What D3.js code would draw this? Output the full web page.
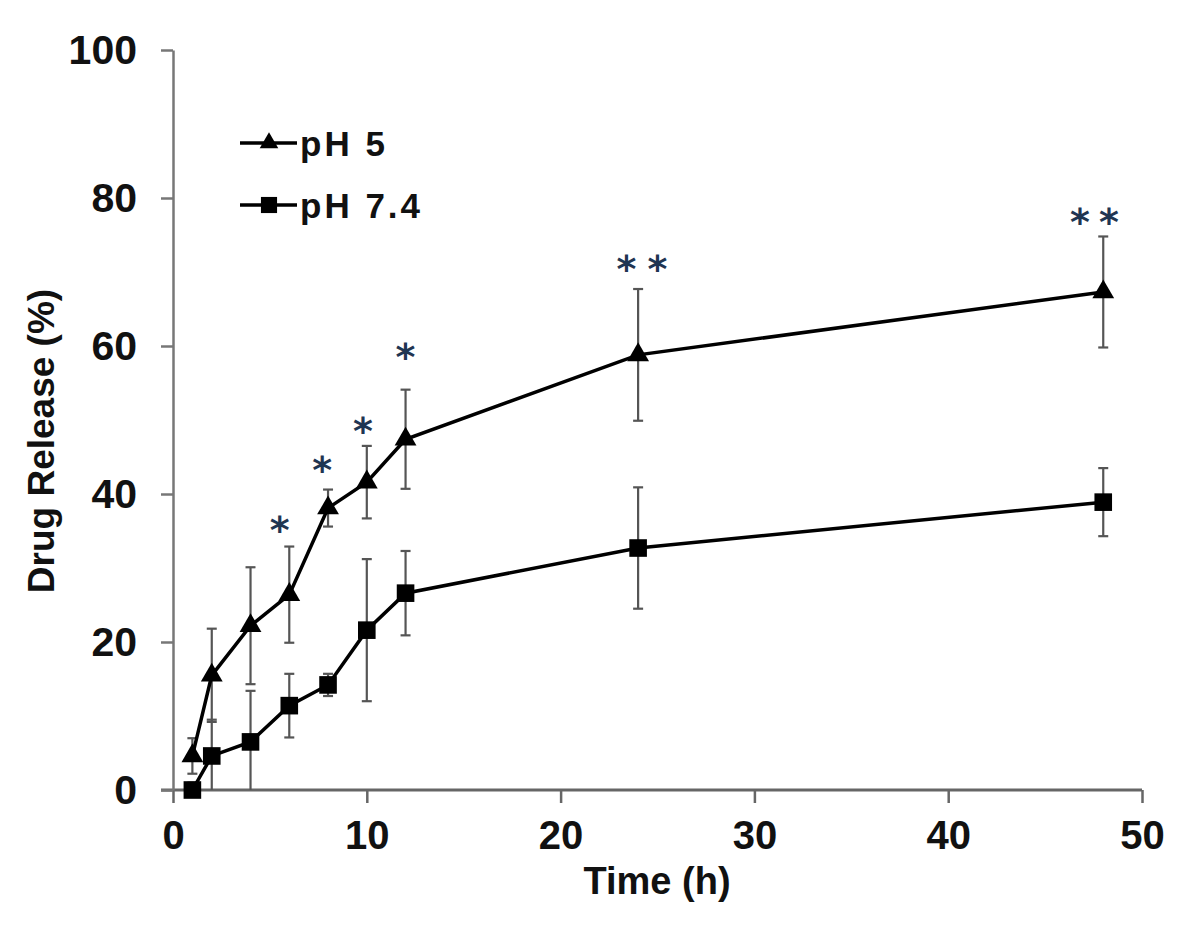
<!DOCTYPE html>
<html>
<head>
<meta charset="utf-8">
<script src="https://cdn.jsdelivr.net/npm/d3@7"></script>
<style>
  body { margin: 0; background: #fff; }
  text { font-family: 'Liberation Sans', Arial, sans-serif; }
</style>
</head>
<body>
<div id="chart"></div>
<script>
// data (time in h, release in %)
const times = [1, 2, 4, 6, 8, 10, 12, 24, 48]
const ph5 = [4.6, 15.5, 22.2, 26.4, 38.1, 41.6, 47.4, 58.8, 67.3]
const ph5Err = [2.4, 6.3, 7.9, 6.5, 2.5, 4.9, 6.7, 8.9, 7.5]
const ph74 = [0, 4.6, 6.5, 11.4, 14.2, 21.6, 26.6, 32.7, 38.9]
const ph74Err = [1, 4.9, 6.9, 4.3, 1.5, 9.6, 5.7, 8.2, 4.6]
const seriesNames = ['pH 5', 'pH 7.4']

// significance marks (asterisks) above the pH 5 points
const starTimes = [5.5, 7.7, 9.8, 12.0, 23.4, 25.0, 46.8, 48.3]
const starValues = [36.5, 44.7, 50, 59.9, 71.9, 71.9, 78.2, 78.2]

const xTicks = [0, 10, 20, 30, 40, 50]
const yTicks = [0, 20, 40, 60, 80, 100]

const width = 1181
const height = 927

const svg = d3.select('#chart')
  .append('svg')
  .attr('width', width)
  .attr('height', height)

const x = d3.scaleLinear().domain([0, 50]).range([173, 1142])
const y = d3.scaleLinear().domain([0, 100]).range([790, 50])

// x axis
const xAxis = svg.append('g')
  .attr('transform', 'translate(0,' + y(0) + ')')
  .call(d3.axisBottom(x).tickValues(xTicks).tickSize(13).tickSizeOuter(0).tickPadding(18))
xAxis.select('.domain').attr('stroke', '#666').attr('stroke-width', 3)
  .attr('d', 'M' + (x(0) - 12) + ',0H' + x(50))
xAxis.selectAll('.tick line').attr('stroke', '#666').attr('stroke-width', 2.5)
xAxis.selectAll('.tick text')
  .attr('font-size', 40).attr('font-weight', 'bold').attr('fill', '#111')
  .attr('font-family', "'Liberation Sans', Arial, sans-serif")

// y axis
const yAxis = svg.append('g')
  .attr('transform', 'translate(' + x(0) + ',0)')
  .call(d3.axisLeft(y).tickValues(yTicks).tickSize(12).tickSizeOuter(0).tickPadding(24))
yAxis.select('.domain').attr('stroke', '#777').attr('stroke-width', 2.5)
yAxis.selectAll('.tick line').attr('stroke', '#777').attr('stroke-width', 2.5)
yAxis.selectAll('.tick text')
  .attr('font-size', 41).attr('font-weight', 'bold').attr('fill', '#111')
  .attr('font-family', "'Liberation Sans', Arial, sans-serif")

// axis titles
svg.append('text')
  .attr('x', 657)
  .attr('y', 894)
  .attr('text-anchor', 'middle')
  .attr('font-size', 38).attr('font-weight', 'bold').attr('fill', '#111')
  .text('Time (h)')

svg.append('text')
  .attr('transform', 'translate(54,441) rotate(-90)')
  .attr('text-anchor', 'middle')
  .attr('font-size', 37).attr('font-weight', 'bold').attr('fill', '#111')
  .text('Drug Release (%)')

const series = [
  { name: seriesNames[0], values: ph5, err: ph5Err, symbol: d3.symbolTriangle, size: 206 },
  { name: seriesNames[1], values: ph74, err: ph74Err, symbol: d3.symbolSquare, size: 310 }
]

const line = d3.line()
  .x(function (d) { return x(d.t) })
  .y(function (d) { return y(d.v) })

series.forEach(function (s) {
  const pts = times.map(function (t, i) { return { t: t, v: s.values[i], e: s.err[i] } })
  const g = svg.append('g')

  // error bars
  const eb = g.selectAll('g.err').data(pts).enter().append('g')
    .attr('stroke', '#555').attr('stroke-width', 2.2)
  eb.append('line')
    .attr('x1', function (d) { return x(d.t) })
    .attr('x2', function (d) { return x(d.t) })
    .attr('y1', function (d) { return y(Math.max(0, d.v - d.e)) })
    .attr('y2', function (d) { return y(d.v + d.e) })
  eb.append('line')
    .attr('x1', function (d) { return x(d.t) - 5 })
    .attr('x2', function (d) { return x(d.t) + 5 })
    .attr('y1', function (d) { return y(d.v + d.e) })
    .attr('y2', function (d) { return y(d.v + d.e) })
  eb.filter(function (d) { return d.v - d.e > 0 }).append('line')
    .attr('x1', function (d) { return x(d.t) - 5 })
    .attr('x2', function (d) { return x(d.t) + 5 })
    .attr('y1', function (d) { return y(d.v - d.e) })
    .attr('y2', function (d) { return y(d.v - d.e) })

  g.append('path')
    .datum(pts)
    .attr('fill', 'none')
    .attr('stroke', '#000')
    .attr('stroke-width', 3.5)
    .attr('d', line)

  g.selectAll('path.mark').data(pts).enter().append('path')
    .attr('class', 'mark')
    .attr('transform', function (d) { return 'translate(' + x(d.t) + ',' + y(d.v) + ')' })
    .attr('d', d3.symbol().type(s.symbol).size(s.size))
    .attr('fill', '#000')
})

// asterisks
svg.selectAll('text.star')
  .data(starTimes.map(function (t, i) { return { t: t, v: starValues[i] } }))
  .enter().append('text')
  .attr('class', 'star')
  .attr('x', function (d) { return x(d.t) })
  .attr('y', function (d) { return y(d.v) })
  .attr('dy', '0.62em')
  .attr('text-anchor', 'middle')
  .attr('font-size', 38)
  .attr('font-weight', 'bold')
  .style('font-family', "'DejaVu Sans', sans-serif")
  .attr('fill', '#1f3552')
  .text('*')

// legend
const legend = svg.append('g')
const legendY = [143, 205]
series.forEach(function (s, i) {
  legend.append('line')
    .attr('x1', 240).attr('x2', 297)
    .attr('y1', legendY[i]).attr('y2', legendY[i])
    .attr('stroke', '#000').attr('stroke-width', 3.5)
  legend.append('path')
    .attr('transform', 'translate(269,' + legendY[i] + ')')
    .attr('d', d3.symbol().type(s.symbol).size(i === 0 ? 150 : 260))
    .attr('fill', '#000')
  legend.append('text')
    .attr('x', 300)
    .attr('y', legendY[i] + 13)
    .attr('font-size', 35)
    .attr('font-weight', 'bold')
    .attr('letter-spacing', 3)
    .attr('fill', '#111')
    .text(s.name)
})
</script>
</body>
</html>
